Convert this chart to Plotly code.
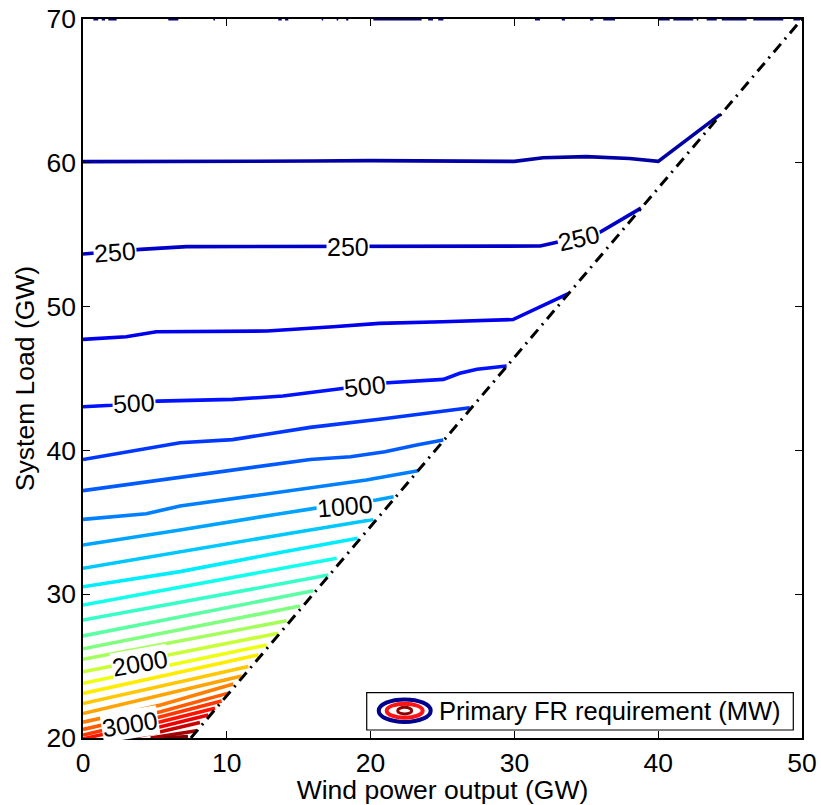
import plotly.graph_objects as go

# ---------------- data ----------------
contour_levels = [125, 250, 375, 500, 625, 750, 875, 1000, 1125, 1250, 1375, 1500,
                  1625, 1750, 1875, 2000, 2125, 2250, 2375, 2500, 2625, 2750, 2875,
                  3000, 3125, 3250, 3375, 3500]

contour_x = [
    [0, 10, 16, 20, 25, 30, 32, 35, 38, 40, 44.3],                 # 125
    [0, 4, 7.2, 17, 20.6, 31.8, 32.8, 36.0, 38.8],                 # 250
    [0, 3, 5.1, 12.8, 17.4, 20.6, 25, 29.9, 33.75],                # 375
    [0, 2, 5.2, 10.4, 13.9, 18.1, 21.2, 25.06, 26.2, 27.4, 29.46], # 500
    [0, 3, 6.75, 10.4, 15.8, 20.9, 24.8, 26.9],                    # 625
    [0, 6.75, 12, 15.8, 18.6, 21, 23.2, 25.05],                    # 750
    [0, 4.4, 6.75, 13.7, 19.7, 23.3],                              # 875
    [0, 6.75, 13.7, 16.1, 20.4, 21.6],                             # 1000
    [0, 6.75, 13.7, 20.2],                                         # 1125
    [0, 6.75, 13.7, 19.1],                                         # 1250
    [0, 17.64],                                                    # 1375
    [0, 17.06],                                                    # 1500
    [0, 16.02],                                                    # 1625
    [0, 15.09],                                                    # 1750
    [0, 14.16],                                                    # 1875
    [0, 13.58],                                                    # 2000
    [0, 12.77],                                                    # 2125
    [0, 12.2],                                                     # 2250
    [0, 11.5],                                                     # 2375
    [0, 11.04],                                                    # 2500
    [0, 5.4, 10.46],                                               # 2625
    [0, 5.4, 10.11],                                               # 2750
    [0, 5.4, 9.64],                                                # 2875
    [0, 5.4, 9.18],                                                # 3000
    [1.5, 5.4, 8.72],                                              # 3125
    [3.2, 5.4, 8.13],                                              # 3250
    [4.7, 5.6, 7.9],                                               # 3375
    [5.6, 7.3],                                                    # 3500
]
contour_y = [
    [60.08, 60.08, 60.12, 60.15, 60.12, 60.1, 60.35, 60.43, 60.3, 60.1, 63.35],
    [53.66, 53.98, 54.17, 54.2, 54.21, 54.21, 54.44, 55.2, 56.85],
    [47.72, 47.9, 48.25, 48.3, 48.6, 48.83, 48.95, 49.1, 50.9],
    [43.04, 43.14, 43.43, 43.55, 43.78, 44.3, 44.71, 44.94, 45.36, 45.64, 45.87],
    [39.37, 39.9, 40.53, 40.75, 41.6, 42.2, 42.69, 42.97],
    [37.2, 38.13, 38.8, 39.37, 39.56, 39.9, 40.38, 40.72],
    [35.2, 35.6, 36.13, 37.13, 37.94, 38.59],
    [33.42, 34.46, 35.6, 35.97, 36.55, 36.78],
    [31.8, 32.96, 34.12, 35.2],
    [30.52, 31.57, 32.9, 33.89],
    [29.25, 32.5],
    [28.2, 31.33],
    [27.1, 30.24],
    [26.2, 29.18],
    [25.47, 28.16],
    [24.6, 27.28],
    [23.8, 26.47],
    [23.1, 25.78],
    [22.4, 24.97],
    [21.7, 24.32],
    [21.1, 22.29, 23.76],
    [20.6, 21.83, 23.12],
    [20.2, 21.48, 22.58],
    [19.95, 21.13, 22.07],
    [20.0, 20.78, 21.6],
    [20.0, 20.43, 21.07],
    [20.0, 20.13, 20.5],
    [20.0, 20.1],
]

# level-0 contour fragments along the top edge (start, end of each piece)
top_frag_x0 = [0.72, 1.3, 1.76, 5.93, 9.07, 13.58, 14.05, 16.6, 17.64, 18.3, 20.19, 24.0,
               24.7, 31.43, 33.29, 35.26, 36.18, 40.0, 41.05, 42.68, 43.37, 44.42, 46.61, 49.4]
top_frag_x1 = [1.06, 1.53, 2.34, 6.63, 9.18, 13.82, 14.28, 16.7, 17.75, 18.45, 23.55, 24.34,
               25.06, 31.78, 33.52, 35.49, 37.0, 40.8, 42.44, 42.79, 44.07, 46.15, 48.7, 49.86]
top_frag_y = 70

# feasibility boundary (dash-dot)
boundary_x = [7.5, 50]
boundary_y = [20, 70]

# inline contour labels
label_text = ["250", "250", "250", "500", "500", "1000", "2000", "3000"]
label_x = [2.23, 18.46, 34.5, 3.55, 19.6, 18.2, 3.96, 3.3]
label_y = [53.83, 54.15, 54.75, 43.27, 44.45, 36.15, 25.25, 20.95]
label_angle = [-4, 0, -13, -3, -6, -5, -10, -9]

x_ticks = [0, 10, 20, 30, 40, 50]
y_ticks = [20, 30, 40, 50, 60, 70]

c_min, c_max = 0, 3500
legend_label = "Primary FR requirement (MW)"


def jet(v):
    def cl(t):
        return max(0.0, min(1.0, t))
    r = cl(1.5 - abs(4 * v - 3))
    g = cl(1.5 - abs(4 * v - 2))
    b = cl(1.5 - abs(4 * v - 1))
    return "rgb(%d,%d,%d)" % (round(r * 255), round(g * 255), round(b * 255))


FONT = "Liberation Sans, Arial, Helvetica, sans-serif"
FS = 25.5
FS_AX = 26.5
fig = go.Figure()

# level 0 fragments
fx, fy = [], []
for a, b in zip(top_frag_x0, top_frag_x1):
    fx += [a, b, None]
    fy += [top_frag_y, top_frag_y, None]
fig.add_trace(go.Scatter(x=fx, y=fy, mode="lines",
                         line=dict(color=jet(0), width=3),
                         hoverinfo="skip", showlegend=False))

for lv, xs, ys in zip(contour_levels, contour_x, contour_y):
    col = jet((lv - c_min) / (c_max - c_min))
    fig.add_trace(go.Scatter(x=xs, y=ys, mode="lines",
                             line=dict(color=col, width=3.6),
                             name=str(lv), showlegend=False))

fig.add_trace(go.Scatter(x=boundary_x, y=boundary_y, mode="lines",
                         line=dict(color="black", width=3, dash="11px,6px,2px,6px"),
                         showlegend=False, hoverinfo="skip"))

for t, x, y, a in zip(label_text, label_x, label_y, label_angle):
    fig.add_annotation(x=x, y=y, xref="x", yref="y", text=t, showarrow=False,
                       textangle=a, bgcolor="white", borderpad=0,
                       font=dict(family=FONT, size=25, color="black"))

# legend box (paper coordinates)
fig.add_shape(type="rect", xref="paper", yref="paper", x0=0.3946, x1=0.9879,
              y0=0.0111, y1=0.063, line=dict(color="black", width=1.2),
              fillcolor="white", layer="above")
fig.add_shape(type="circle", xref="paper", yref="paper", x0=0.4113, x1=0.4836,
              y0=0.0223, y1=0.0537, line=dict(color="rgb(0,0,140)", width=4), layer="above")
fig.add_shape(type="circle", xref="paper", yref="paper", x0=0.4224, x1=0.4724,
              y0=0.0282, y1=0.0477, line=dict(color="rgb(255,20,20)", width=4), layer="above")
fig.add_shape(type="circle", xref="paper", yref="paper", x0=0.4377, x1=0.4572,
              y0=0.0334, y1=0.0426, line=dict(color="rgb(140,0,0)", width=3), layer="above")
fig.add_annotation(x=0.4924, y=0.0376, xref="paper", yref="paper", xanchor="left",
                   yanchor="middle", text=legend_label, showarrow=False,
                   font=dict(family=FONT, size=FS, color="black"))

axis_common = dict(showline=True, linecolor="black", linewidth=1.5, mirror="allticks",
                   ticks="inside", ticklen=7, tickwidth=1, tickcolor="black",
                   showgrid=False, zeroline=False,
                   tickfont=dict(family=FONT, size=FS_AX, color="black"))
fig.update_xaxes(range=[0, 50], tickvals=x_ticks, ticktext=[str(v) for v in x_ticks],
                 title=dict(text="Wind power output (GW)", standoff=0,
                            font=dict(family=FONT, size=FS_AX, color="black")),
                 automargin=False, **axis_common)
fig.update_yaxes(range=[20, 70], tickvals=y_ticks, ticktext=[str(v) for v in y_ticks],
                 title=dict(text="System Load (GW)", standoff=4,
                            font=dict(family=FONT, size=FS_AX, color="black")),
                 automargin=False, **axis_common)

fig.update_layout(width=821, height=805, margin=dict(l=83, r=19, t=19, b=67),
                  paper_bgcolor="white", plot_bgcolor="white",
                  font=dict(family=FONT, size=FS, color="black"))

fig.write_html("out.html")
